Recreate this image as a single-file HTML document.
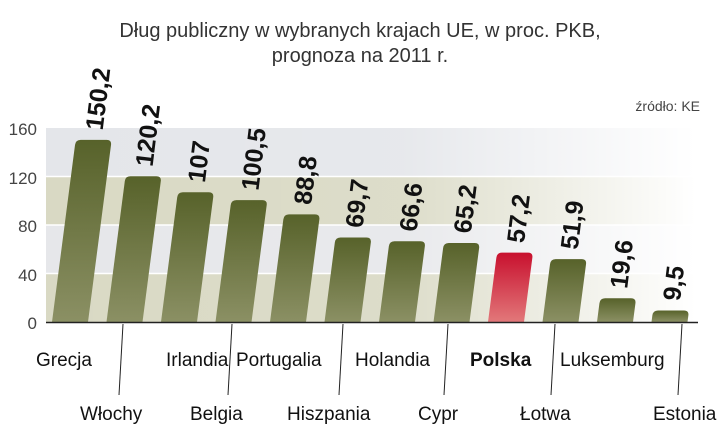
<!DOCTYPE html>
<html><head><meta charset="utf-8"><style>
html,body{margin:0;padding:0;background:#fff;}
svg{display:block;font-family:"Liberation Sans",sans-serif;}
</style></head><body>
<svg width="720" height="444" viewBox="0 0 720 444">
<defs>
<linearGradient id="fade" x1="0" x2="1" y1="0" y2="0">
<stop offset="0" stop-color="#fff" stop-opacity="0"/><stop offset="0.55" stop-color="#fff" stop-opacity="0.1"/><stop offset="1" stop-color="#fff" stop-opacity="1"/>
</linearGradient>
<linearGradient id="g" x1="0" x2="0" y1="0" y2="1"><stop offset="0" stop-color="#57622a"/><stop offset="1" stop-color="#8b9064"/></linearGradient>
<linearGradient id="r" x1="0" x2="0" y1="0" y2="1"><stop offset="0" stop-color="#c8102e"/><stop offset="1" stop-color="#e2787a"/></linearGradient>
</defs>
<text x="360" y="37" text-anchor="middle" font-size="20" fill="#333">Dług publiczny w wybranych krajach UE, w proc. PKB,</text>
<text x="360" y="62" text-anchor="middle" font-size="20" fill="#333">prognoza na 2011 r.</text>
<text x="700" y="111" text-anchor="end" font-size="14" fill="#444">źródło: KE</text>
<rect x="46" y="128" width="650" height="48.5" fill="#e4e6ea"/>
<rect x="46" y="176.5" width="650" height="48.5" fill="#d9d9c4"/>
<rect x="46" y="225" width="650" height="48.5" fill="#e6e7ea"/>
<rect x="46" y="273.5" width="650" height="48.5" fill="#d9d9c4"/>
<rect x="46" y="128" width="650" height="194" fill="url(#fade)"/>
<g stroke="#fff" stroke-width="1.5"><line x1="46" y1="176.5" x2="696" y2="176.5"/><line x1="46" y1="225" x2="696" y2="225"/><line x1="46" y1="273.5" x2="696" y2="273.5"/></g>
<g font-size="17" fill="#444" text-anchor="end">
<text x="37" y="135">160</text><text x="37" y="184">120</text><text x="37" y="232">80</text><text x="37" y="281">40</text><text x="37" y="329">0</text>
</g>
<g id="bars"></g>
<script>
var vals=[150.2,120.2,107,100.5,88.8,69.7,66.6,65.2,57.2,51.9,19.6,9.5];
var labs=["150,2","120,2","107","100,5","88,8","69,7","66,6","65,2","57,2","51,9","19,6","9,5"];
var ns="http://www.w3.org/2000/svg",g=document.getElementById("bars");
vals.forEach(function(v,i){
 var h=v*1.2125,x0=52+54.5*i,s=0.13*h,t=322-h,w=36,r=5;
 var p=document.createElementNS(ns,"path");
 p.setAttribute("d","M"+x0+",322 L"+(x0+s-r*0.13)+","+(t+r)+" Q"+(x0+s)+","+t+" "+(x0+s+r)+","+t+" L"+(x0+s+w-r)+","+t+" Q"+(x0+s+w)+","+t+" "+(x0+s+w-0.13*r)+","+(t+r)+" L"+(x0+w)+",322 Z");
 p.setAttribute("fill",i==8?"url(#r)":"url(#g)");g.appendChild(p);
 var cx=x0+s+w/2,tx=document.createElementNS(ns,"text");
 tx.setAttribute("transform","translate("+(cx+9)+","+(t-9)+") rotate(-83)");
 tx.setAttribute("font-size","25");tx.setAttribute("font-weight","bold");tx.setAttribute("fill","#111");
 tx.textContent=labs[i];g.appendChild(tx);
});
</script>
<line x1="46" y1="322.5" x2="698" y2="322.5" stroke="#222" stroke-width="1.5"/>
<g stroke="#222" stroke-width="1">
<line x1="123" y1="324" x2="119" y2="395"/><line x1="232" y1="324" x2="228" y2="395"/><line x1="343" y1="324" x2="339" y2="395"/>
<line x1="448" y1="324" x2="444" y2="395"/><line x1="555" y1="324" x2="551" y2="395"/><line x1="682" y1="324" x2="678" y2="395"/>
</g>
<g font-size="19" fill="#111">
<text x="36" y="366">Grecja</text><text x="166" y="366">Irlandia</text><text x="236" y="366">Portugalia</text>
<text x="355" y="366">Holandia</text><text x="470" y="366" font-weight="bold">Polska</text><text x="560" y="366">Luksemburg</text>
<text x="80" y="420">Włochy</text><text x="190" y="420">Belgia</text><text x="287" y="420">Hiszpania</text>
<text x="418" y="420">Cypr</text><text x="520" y="420">Łotwa</text><text x="653" y="420">Estonia</text>
</g>
</svg>
</body></html>
